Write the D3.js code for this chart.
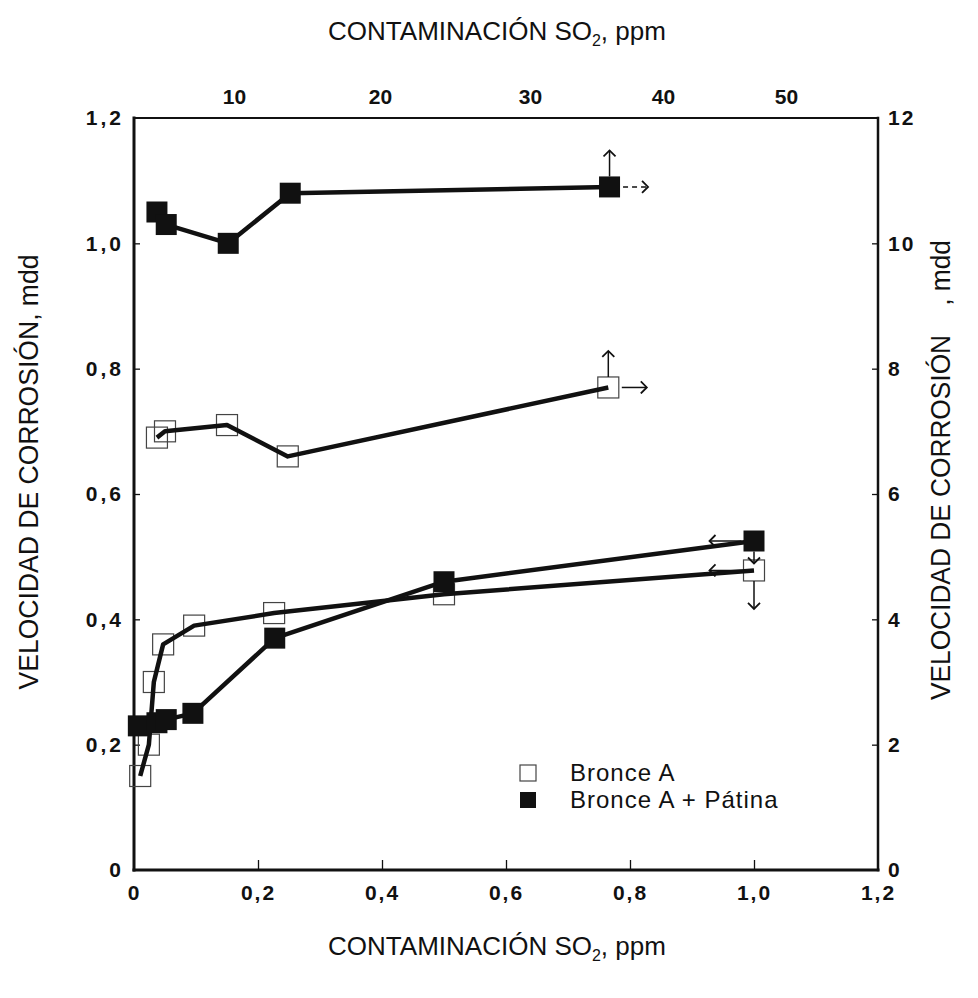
<!DOCTYPE html>
<html>
<head>
<meta charset="utf-8">
<script src="https://cdn.jsdelivr.net/npm/d3@7"></script>
<style>
  body { margin: 0; background: #fff; }
  text { font-family: "Liberation Sans", Arial, sans-serif; fill: #111; }
  .tick text { font-weight: bold; font-size: 21px; }
</style>
</head>
<body>
<svg id="chart" width="978" height="998"></svg>
<script>
// tick values of the four axes
var bottomTicks = [0, 0.2, 0.4, 0.6, 0.8, 1.0, 1.2];
var leftTicks = [0, 0.2, 0.4, 0.6, 0.8, 1.0, 1.2];
var topTicks = [10, 20, 30, 40, 50];
var rightTicks = [0, 2, 4, 6, 8, 10, 12];

// upper curves: x in ppm (bottom scale), y in mdd on the right axis
var bronceHigh = [[0.037, 6.9], [0.050, 7.0], [0.150, 7.1], [0.248, 6.6], [0.765, 7.7]];
var patinaHigh = [[0.037, 10.5], [0.052, 10.3], [0.152, 10.0], [0.252, 10.8], [0.767, 10.9]];

// lower curves: x in ppm (bottom), y in mdd on the left axis
var bronceLow = [[0.01, 0.15], [0.024, 0.20], [0.032, 0.30], [0.047, 0.36], [0.097, 0.39],
  [0.226, 0.41], [0.5, 0.44], [1.0, 0.478]];
var patinaLow = [[0.007, 0.23], [0.037, 0.235], [0.052, 0.24], [0.095, 0.25], [0.227, 0.37],
  [0.5, 0.46], [1.0, 0.525]];

var legendNames = ['Bronce A', 'Bronce A + Pátina'];

var svg = d3.select('#chart');

var x = d3.scaleLinear().domain([0, 1.2]).range([134, 878]);
var y = d3.scaleLinear().domain([0, 1.2]).range([870, 118]);
var yRight = d3.scaleLinear().domain([0, 12]).range([870, 118]);
// the top ppm scale of the scan is not evenly spaced
var xTop = d3.scaleLinear().domain([10, 20, 30, 40, 50]).range([234, 380, 530, 663, 786]);

function comma(d) {
  return d === 0 ? '0' : d3.format('.1f')(d).replace('.', ',');
}

var defs = svg.append('defs');
defs.append('marker')
  .attr('id', 'head')
  .attr('viewBox', '-8 -7 10 14')
  .attr('markerWidth', 10)
  .attr('markerHeight', 14)
  .attr('markerUnits', 'userSpaceOnUse')
  .attr('orient', 'auto')
  .append('path')
  .attr('d', 'M-6,-6 L0,0 L-6,6')
  .attr('fill', 'none')
  .attr('stroke', '#111')
  .attr('stroke-width', 1.8);

// axes
var gBottom = svg.append('g')
  .attr('transform', 'translate(0,' + y(0) + ')')
  .call(d3.axisBottom(x).tickValues(bottomTicks).tickFormat(comma).tickSize(-10).tickPadding(15));
var gLeft = svg.append('g')
  .attr('transform', 'translate(' + x(0) + ',0)')
  .call(d3.axisLeft(y).tickValues(leftTicks).tickFormat(comma).tickSize(-6).tickPadding(10));
var gTop = svg.append('g')
  .attr('transform', 'translate(0,' + y(1.2) + ')')
  .call(d3.axisTop(xTop).tickValues(topTicks).tickSize(0).tickPadding(14));
var gRight = svg.append('g')
  .attr('transform', 'translate(' + x(1.2) + ',0)')
  .call(d3.axisRight(yRight).tickValues(rightTicks).tickSize(-6).tickPadding(10));

[gBottom, gLeft, gTop, gRight].forEach(function(g) {
  g.select('.domain').remove();
  g.selectAll('.tick line').attr('stroke', '#111').attr('stroke-width', 1.3);
});
gLeft.selectAll('.tick text').style('letter-spacing', '3px');
gBottom.selectAll('.tick text').style('letter-spacing', '2px');
gRight.selectAll('.tick text').style('letter-spacing', '2px');
gBottom.selectAll('.tick').filter(function(d) { return d === 0 || d === 1.2; }).select('line').remove();
gLeft.selectAll('.tick').filter(function(d) { return d === 0 || d === 1.2; }).select('line').remove();
gRight.selectAll('.tick').filter(function(d) { return d === 0 || d === 12; }).select('line').remove();

// frame
var frame = svg.append('g').attr('stroke', '#111').attr('stroke-linecap', 'square');
frame.append('line').attr('x1', x(0)).attr('x2', x(0)).attr('y1', y(1.2)).attr('y2', y(0)).attr('stroke-width', 3);
frame.append('line').attr('x1', x(0)).attr('x2', x(1.2)).attr('y1', y(0)).attr('y2', y(0)).attr('stroke-width', 3);
frame.append('line').attr('x1', x(0)).attr('x2', x(1.2)).attr('y1', y(1.2)).attr('y2', y(1.2)).attr('stroke-width', 2);
frame.append('line').attr('x1', x(1.2)).attr('x2', x(1.2)).attr('y1', y(1.2)).attr('y2', y(0)).attr('stroke-width', 2.5);

// titles
function so2Title(ty) {
  var t = svg.append('text')
    .attr('x', 497).attr('y', ty)
    .attr('text-anchor', 'middle')
    .style('font-size', '26px');
  t.append('tspan').text('CONTAMINACIÓN SO');
  t.append('tspan').text('2').attr('dy', 6).style('font-size', '16px');
  t.append('tspan').text(', ppm').attr('dy', -6);
}
so2Title(40);
so2Title(955);

svg.append('text')
  .attr('transform', 'translate(38,472) rotate(-90)')
  .attr('text-anchor', 'middle')
  .attr('textLength', 435)
  .attr('lengthAdjust', 'spacingAndGlyphs')
  .style('font-size', '28px')
  .text('VELOCIDAD DE CORROSIÓN, mdd');

svg.append('text')
  .attr('transform', 'translate(950,470) rotate(-90)')
  .attr('text-anchor', 'middle')
  .attr('textLength', 460)
  .attr('lengthAdjust', 'spacingAndGlyphs')
  .style('font-size', '28px')
  .style('white-space', 'pre')
  .text('VELOCIDAD DE CORROSIÓN    , mdd');

// curves
var size = 21;
var lineLow = d3.line().x(function(d) { return x(d[0]); }).y(function(d) { return y(d[1]); });
var lineHigh = d3.line().x(function(d) { return x(d[0]); }).y(function(d) { return yRight(d[1]); });

function openSquares(data, fy) {
  svg.append('g').selectAll('rect').data(data).join('rect')
    .attr('x', function(d) { return x(d[0]) - size / 2; })
    .attr('y', function(d) { return fy(d[1]) - size / 2; })
    .attr('width', size).attr('height', size)
    .attr('fill', 'none').attr('stroke', '#444').attr('stroke-width', 1.2);
}
function filledSquares(data, fy) {
  svg.append('g').selectAll('rect').data(data).join('rect')
    .attr('x', function(d) { return x(d[0]) - size / 2; })
    .attr('y', function(d) { return fy(d[1]) - size / 2; })
    .attr('width', size).attr('height', size)
    .attr('fill', '#111');
}
function drawLine(data, gen) {
  svg.append('path').datum(data)
    .attr('d', gen)
    .attr('fill', 'none').attr('stroke', '#111')
    .attr('stroke-width', 4.5).attr('stroke-linejoin', 'round');
}

openSquares(bronceLow, y);
openSquares(bronceHigh, yRight);
drawLine(bronceLow, lineLow);
drawLine(bronceHigh, lineHigh);
drawLine(patinaLow, lineLow);
drawLine(patinaHigh, lineHigh);
filledSquares(patinaLow, y);
filledSquares(patinaHigh, yRight);

// arrows telling which axes each curve is read on
function arrow(x1, y1, x2, y2, dashed) {
  svg.append('line')
    .attr('x1', x1).attr('y1', y1).attr('x2', x2).attr('y2', y2)
    .attr('stroke', '#111').attr('stroke-width', 1.5)
    .attr('stroke-dasharray', dashed ? '5,4' : null)
    .attr('marker-end', 'url(#head)');
}
[[bronceHigh, false], [patinaHigh, true]].forEach(function(s) {
  var p = s[0][s[0].length - 1];
  var cx = x(p[0]), cy = yRight(p[1]);
  arrow(cx, cy - size / 2, cx, cy - size / 2 - 26, false);
  arrow(cx + size / 2 + 3, cy, cx + size / 2 + 28, cy, s[1]);
});
[bronceLow, patinaLow].forEach(function(s, i) {
  var p = s[s.length - 1];
  var cx = x(p[0]), cy = y(p[1]);
  arrow(cx - size / 2 - 2, cy, cx - size / 2 - 34, cy, false);
  arrow(cx, cy + size / 2, cx, cy + size / 2 + (i === 0 ? 28 : 12), false);
});

// legend
var legend = svg.append('g').attr('transform', 'translate(528,773)');
legend.append('rect').attr('x', -8).attr('y', -8).attr('width', 16).attr('height', 16)
  .attr('fill', 'none').attr('stroke', '#444').attr('stroke-width', 1.2);
legend.append('rect').attr('x', -8).attr('y', 19).attr('width', 16).attr('height', 16)
  .attr('fill', '#111');
legend.selectAll('text.name').data(legendNames).join('text')
  .attr('class', 'name')
  .attr('x', 42)
  .attr('y', function(d, i) { return 8 + i * 27; })
  .style('font-size', '24px')
  .style('letter-spacing', '1px')
  .text(function(d) { return d; });
</script>
</body>
</html>
